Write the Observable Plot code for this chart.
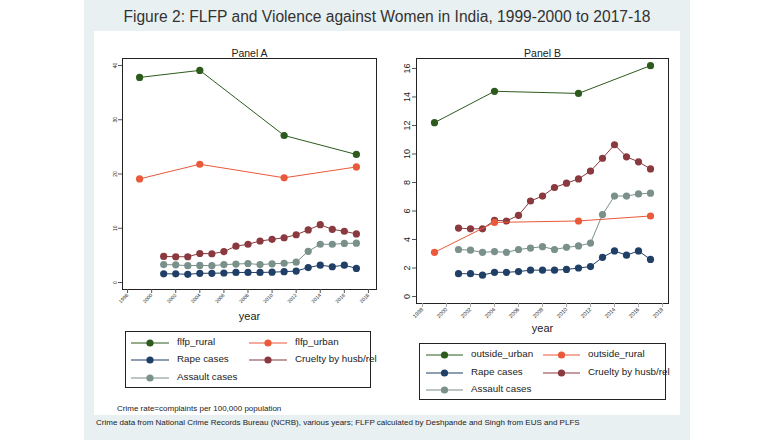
<!DOCTYPE html>
<html>
<head>
<meta charset="utf-8">
<script src="https://cdn.jsdelivr.net/npm/d3@7"></script>
<script src="https://cdn.jsdelivr.net/npm/@observablehq/plot@0.6"></script>
<style>
  html, body { margin: 0; padding: 0; background: #fff; }
  body { width: 772px; height: 446px; position: relative; overflow: hidden; font-family: "Liberation Sans", Arial, Helvetica, sans-serif; color: #222; }
  #outer { position: absolute; left: 84px; top: 0; width: 606px; height: 440px; background: #e9f0f2; }
  #inner { position: absolute; left: 94px; top: 31px; width: 586px; height: 384px; background: #fff; }
  #title { position: absolute; left: 84px; width: 606px; top: 8px; text-align: center; font-size: 15.6px; color: #333; }
  .chart { position: absolute; }
  .legend { position: absolute; border: 1px solid #222; background: #fff; box-sizing: border-box; }
  .legend .item { position: absolute; font-size: 9.8px; color: #222; white-space: nowrap; }
  .legend svg { position: absolute; }
  .note { position: absolute; font-size: 8px; color: #222; white-space: nowrap; }
</style>
</head>
<body>
<div id="outer"></div>
<div id="inner"></div>
<div id="title">Figure 2: FLFP and Violence against Women in India, 1999-2000 to 2017-18</div>
<div id="chartA" class="chart" style="left:100px; top:40px;"></div>
<div id="chartB" class="chart" style="left:395px; top:40px;"></div>
<div id="legendA" class="legend" style="left:125px; top:331px; width:246px; height:57px;"></div>
<div id="legendB" class="legend" style="left:419px; top:343px; width:247px; height:57px;"></div>
<div class="note" style="left:117px; top:404px;">Crime rate=complaints per 100,000 population</div>
<div class="note" style="left:96px; top:418px;">Crime data from National Crime Records Bureau (NCRB), various years; FLFP calculated by Deshpande and Singh from EUS and PLFS</div>
<script>
// ---- Data ----
const flfpYears = [1999, 2004, 2011, 2017];
const flfpRural = [37.8, 39.1, 27.1, 23.6];
const flfpUrban = [19.1, 21.8, 19.3, 21.3];
const outsideUrban = [12.2, 14.4, 14.25, 16.2];
const outsideRural = [3.1, 5.2, 5.3, 5.65];
const crimeYears = [2001, 2002, 2003, 2004, 2005, 2006, 2007, 2008, 2009, 2010, 2011, 2012, 2013, 2014, 2015, 2016, 2017];
const rapeCases = [1.6, 1.6, 1.5, 1.7, 1.7, 1.75, 1.85, 1.85, 1.85, 1.9, 2.0, 2.1, 2.75, 3.2, 2.9, 3.2, 2.6];
const crueltyCases = [4.8, 4.75, 4.75, 5.35, 5.3, 5.7, 6.7, 7.05, 7.65, 7.95, 8.25, 8.8, 9.7, 10.65, 9.8, 9.45, 8.95];
const assaultCases = [3.3, 3.25, 3.1, 3.15, 3.1, 3.3, 3.4, 3.5, 3.3, 3.45, 3.55, 3.75, 5.75, 7.05, 7.05, 7.2, 7.25];
const xTicks = [1998, 2000, 2002, 2004, 2006, 2008, 2010, 2012, 2014, 2016, 2018];
const yTicksA = [0, 10, 20, 30, 40];
const yTicksB = [0, 2, 4, 6, 8, 10, 12, 14, 16];
const labelsA = ["flfp_rural", "flfp_urban", "Rape cases", "Cruelty by husb/rel", "Assault cases"];
const labelsB = ["outside_urban", "outside_rural", "Rape cases", "Cruelty by husb/rel", "Assault cases"];

// ---- Styles ----
const colGreen = "#2c5b1d", colOrange = "#e9593a", colBlue = "#1f3f66", colMaroon = "#8a393e", colGrey = "#7a908a";
const seriesColors = [colGreen, colOrange, colBlue, colMaroon, colGrey];
const FONT = '"Liberation Sans", Arial, Helvetica, sans-serif';

function rows(xs, ys, name) { return xs.map((x, i) => ({x, y: ys[i], name})); }

function seriesMarks(data, color) {
  return [
    Plot.line(data, {x: "x", y: "y", stroke: color, strokeWidth: 1}),
    Plot.dot(data, {x: "x", y: "y", fill: color, r: 3.6, stroke: "none"})
  ];
}

// ---- Panel A ----
const A = [
  rows(flfpYears, flfpRural, labelsA[0]),
  rows(flfpYears, flfpUrban, labelsA[1]),
  rows(crimeYears, rapeCases, labelsA[2]),
  rows(crimeYears, crueltyCases, labelsA[3]),
  rows(crimeYears, assaultCases, labelsA[4])
];
const drawOrderA = [0, 1, 4, 2, 3];
const chartA = Plot.plot({
  width: 280, height: 290,
  marginLeft: 22, marginRight: 4, marginTop: 18, marginBottom: 41,
  style: {fontFamily: FONT, background: "transparent", color: "#222"},
  x: {domain: [1997.58, 2018.67]},
  y: {domain: [-1.29, 41.29]},
  marks: [
    Plot.frame({stroke: "#222", strokeWidth: 1}),
    Plot.axisY(yTicksA, {tickSize: 4, tickPadding: 2, tickRotate: -90, fontSize: 5, label: null, tickFormat: d => String(d), stroke: "#555"}),
    Plot.axisX(xTicks, {tickSize: 4, tickPadding: 1, tickRotate: -45, fontSize: 5, label: null, tickFormat: d => String(d), stroke: "#555"}),
    Plot.text(["Panel A"], {frameAnchor: "top", dy: -9, fontSize: 10.5, fill: "#222"}),
    Plot.text(["year"], {frameAnchor: "bottom", dy: 30, fontSize: 11, fill: "#222"}),
    ...drawOrderA.flatMap(i => seriesMarks(A[i], seriesColors[i]))
  ]
});
document.getElementById("chartA").appendChild(chartA);

// ---- Panel B ----
const B = [
  rows(flfpYears, outsideUrban, labelsB[0]),
  rows(flfpYears, outsideRural, labelsB[1]),
  rows(crimeYears, rapeCases, labelsB[2]),
  rows(crimeYears, crueltyCases, labelsB[3]),
  rows(crimeYears, assaultCases, labelsB[4])
];
const drawOrderB = [0, 2, 3, 4, 1];
const chartB = Plot.plot({
  width: 280, height: 300,
  marginLeft: 21, marginRight: 7, marginTop: 18, marginBottom: 37,
  style: {fontFamily: FONT, background: "transparent", color: "#222"},
  x: {domain: [1997.5, 2018.5]},
  y: {domain: [-0.49, 16.70]},
  marks: [
    Plot.frame({stroke: "#222", strokeWidth: 1}),
    Plot.axisY(yTicksB, {tickSize: 4, tickPadding: 3, tickRotate: -90, fontSize: 9, label: null, tickFormat: d => String(d), stroke: "#555"}),
    Plot.axisX(xTicks, {tickSize: 4, tickPadding: 1, tickRotate: -45, fontSize: 5.5, label: null, tickFormat: d => String(d), stroke: "#aaa"}),
    Plot.text(["Panel B"], {frameAnchor: "top", dy: -9, fontSize: 10.5, fill: "#222"}),
    Plot.text(["year"], {frameAnchor: "bottom", dy: 28, fontSize: 11, fill: "#222"}),
    ...drawOrderB.flatMap(i => seriesMarks(B[i], seriesColors[i]))
  ]
});
document.getElementById("chartB").appendChild(chartB);

// ---- Legends ----
function buildLegend(el, labels, geom) {
  const pos = [[0, 0], [1, 0], [0, 1], [1, 1], [0, 2]];
  labels.forEach((lab, i) => {
    const [c, r] = pos[i];
    const cy = geom.rowY[r];
    const lx = geom.colX[c];
    const ns = "http://www.w3.org/2000/svg";
    const svg = document.createElementNS(ns, "svg");
    svg.setAttribute("width", geom.lineW + 8);
    svg.setAttribute("height", 10);
    svg.style.left = (lx - 4) + "px";
    svg.style.top = (cy - 5) + "px";
    const line = document.createElementNS(ns, "line");
    line.setAttribute("x1", 4); line.setAttribute("x2", geom.lineW + 4);
    line.setAttribute("y1", 5); line.setAttribute("y2", 5);
    line.setAttribute("stroke", seriesColors[i]); line.setAttribute("stroke-width", 1.2);
    const dot = document.createElementNS(ns, "circle");
    dot.setAttribute("cx", 4 + geom.lineW / 2); dot.setAttribute("cy", 5); dot.setAttribute("r", 3.6);
    dot.setAttribute("fill", seriesColors[i]);
    svg.appendChild(line); svg.appendChild(dot);
    el.appendChild(svg);
    const t = document.createElement("div");
    t.className = "item";
    t.textContent = lab;
    t.style.left = (lx + geom.textDx) + "px";
    t.style.top = (cy - 7) + "px";
    el.appendChild(t);
  });
}
buildLegend(document.getElementById("legendA"), labelsA, {rowY: [11, 28, 46], colX: [5, 123], lineW: 38, textDx: 46});
buildLegend(document.getElementById("legendB"), labelsB, {rowY: [11, 29, 46], colX: [6, 123], lineW: 37, textDx: 45});
</script>
</body>
</html>
